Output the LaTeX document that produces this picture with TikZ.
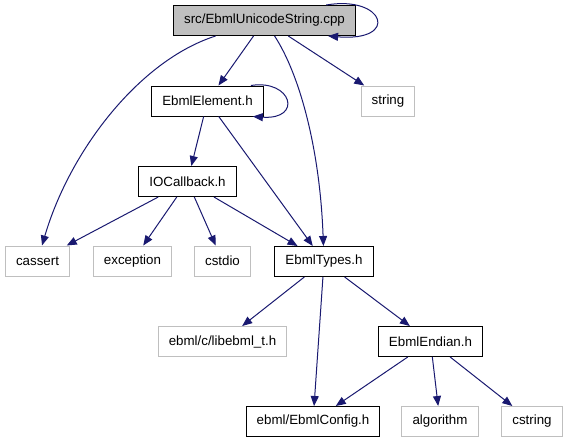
\documentclass[tikz,border=0pt]{standalone}
\usepackage{fontspec}
\setmainfont{Liberation Sans}
\usetikzlibrary{arrows.meta,calc}
\definecolor{edgeblue}{RGB}{25,25,112}
\definecolor{extgray}{RGB}{191,191,191}
\begin{document}
\begin{tikzpicture}[x=.75pt,y=-.75pt,
  hdr/.style={draw=black,line width=.75pt,fill=white,minimum height=22.5pt,inner xsep=8pt,font=\fontsize{10}{12}\selectfont},
  ext/.style={hdr,draw=extgray},
  src/.style={hdr,fill=extgray},
  dep/.style={draw=edgeblue,line width=.75pt,-{Triangle[length=7.5pt,width=6pt]}}]
\useasboundingbox (0,0) rectangle (568,443);
\node[src] (top) at (264.5,20.5) {src/EbmlUnicodeString.cpp};
\node[hdr] (elem) at (207.5,101) {EbmlElement.h};
\node[ext] (string) at (388,101) {string};
\node[hdr] (iocb) at (187.5,181.5) {IOCallback.h};
\node[ext] (cassert) at (37.5,261) {cassert};
\node[ext] (exception) at (132.5,261) {exception};
\node[ext] (cstdio) at (222.5,261) {cstdio};
\node[hdr] (types) at (324,261.5) {EbmlTypes.h};
\node[ext] (libt) at (222.5,341.5) {ebml/c/libebml\_t.h};
\node[hdr] (endian) at (430.5,341.5) {EbmlEndian.h};
\node[hdr] (config) at (313,421.5) {ebml/EbmlConfig.h};
\node[ext] (algorithm) at (440,421.5) {algorithm};
\node[ext] (cstring) at (532,421.5) {cstring};
\draw[dep] ($(top.north east)+(-30,0)$) .. controls (385,-5) and (400,42) .. ($(top.south east)+(-28,0)$);
\draw[dep] (top) -- (elem);
\draw[dep] (top) .. controls (140,60) and (70,150) .. (cassert);
\draw[dep] (top) .. controls (300,75) and (320,150) .. (types);
\draw[dep] (top) -- (string);
\draw[dep] ($(elem.north east)+(-13,0)$) .. controls (292,79) and (303,120) .. ($(elem.south east)+(-11,0)$);
\draw[dep] (elem) -- (iocb);
\draw[dep] (elem) -- (types);
\draw[dep] (iocb) -- (cassert);
\draw[dep] (iocb) -- (exception);
\draw[dep] (iocb) -- (cstdio);
\draw[dep] (iocb) -- (types);
\draw[dep] (types) -- (libt);
\draw[dep] (types) -- (config);
\draw[dep] (types) -- (endian);
\draw[dep] (endian) -- (config);
\draw[dep] (endian) -- (algorithm);
\draw[dep] (endian) -- (cstring);
\end{tikzpicture}
\end{document}
